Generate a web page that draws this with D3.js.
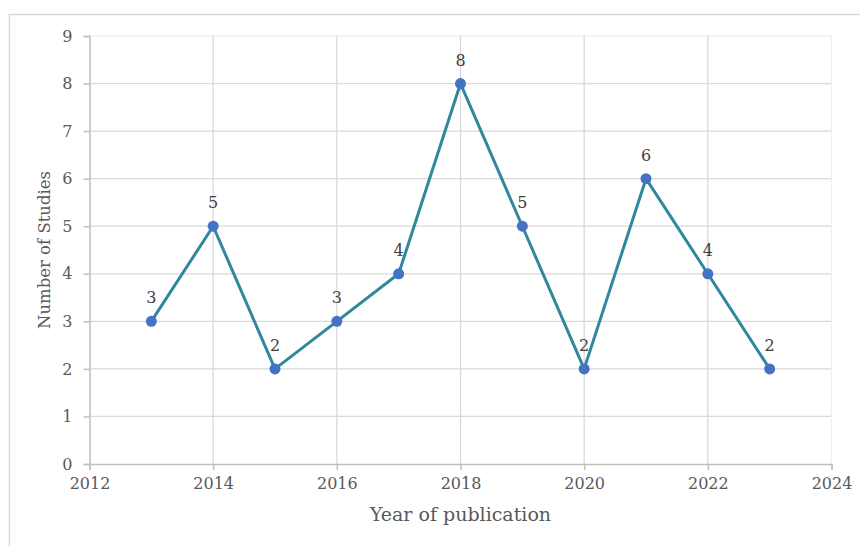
<!DOCTYPE html>
<html><head><meta charset="utf-8">
<script src="https://cdn.jsdelivr.net/npm/d3@7"></script>
<style>body{margin:0;background:#fff}</style>
</head><body>
<svg id="c" width="860" height="546"></svg>
<script>
const years = [2013,2014,2015,2016,2017,2018,2019,2020,2021,2022,2023];
const studies = [3,5,2,3,4,8,5,2,6,4,2];
const xTicks = [2012,2014,2016,2018,2020,2022,2024];
const yTicks = [0,1,2,3,4,5,6,7,8,9];
const xTitle = "Year of publication";
const yTitle = "Number of Studies";

const svg = d3.select("#c");
const font = "'DejaVu Serif','Liberation Serif',serif";
// frame
svg.append("path").attr("d","M9.5,546 V14.5 H860").attr("fill","none").attr("stroke","#d9d9d9").attr("stroke-width",1.5);

const x = d3.scaleLinear().domain([2012,2024]).range([89.5,831.5]);
const y = d3.scaleLinear().domain([0,9]).range([464,36]);

// grid
svg.append("g").selectAll("line").data(yTicks.slice(1)).join("line")
  .attr("x1",x(2012)).attr("x2",x(2024)).attr("y1",d=>y(d)).attr("y2",d=>y(d))
  .attr("stroke",d=>d===9?"#f0f0f0":"#d9d9d9").attr("stroke-width",1.3);
svg.append("g").selectAll("line").data(xTicks.slice(1)).join("line")
  .attr("x1",d=>x(d)).attr("x2",d=>x(d)).attr("y1",y(0)).attr("y2",y(9))
  .attr("stroke",d=>d===2024?"#f0f0f0":"#d9d9d9").attr("stroke-width",1.3);

const xa = svg.append("g").attr("transform",`translate(0,${y(0)})`)
  .call(d3.axisBottom(x).tickValues(xTicks).tickFormat(d3.format("d")).tickSize(6).tickPadding(8));
const ya = svg.append("g").attr("transform",`translate(${x(2012)},0)`)
  .call(d3.axisLeft(y).tickValues(yTicks).tickSize(6).tickPadding(11));
[xa,ya].forEach(a=>{
  a.attr("font-family",null).attr("font-size",null);
  a.selectAll("path,line").attr("stroke","#bfbfbf").attr("stroke-width",1.5);
  a.selectAll("text").attr("fill","#595959").attr("font-family",font).attr("font-size","16px");
});

const line = d3.line().x((d,i)=>x(years[i])).y(d=>y(d));
svg.append("path").datum(studies).attr("d",line).attr("fill","none")
  .attr("stroke","#31879c").attr("stroke-width",3).attr("stroke-linejoin","round");
svg.append("g").selectAll("circle").data(studies).join("circle")
  .attr("cx",(d,i)=>x(years[i])).attr("cy",d=>y(d)).attr("r",5.5).attr("fill","#4472c4");
svg.append("g").selectAll("text").data(studies).join("text")
  .attr("x",(d,i)=>x(years[i])).attr("y",d=>y(d)-18).attr("text-anchor","middle")
  .attr("fill","#404040").attr("font-family",font).attr("font-size","16px").text(d=>d);

svg.append("text").attr("x",(x(2012)+x(2024))/2).attr("y",521).attr("text-anchor","middle")
  .attr("fill","#595959").attr("font-family",font).attr("font-size","19px").text(xTitle);
svg.append("text").attr("transform",`translate(50,${y(4.5)}) rotate(-90)`).attr("text-anchor","middle")
  .attr("fill","#595959").attr("font-family",font).attr("font-size","16.5px").text(yTitle);
</script>
</body></html>
